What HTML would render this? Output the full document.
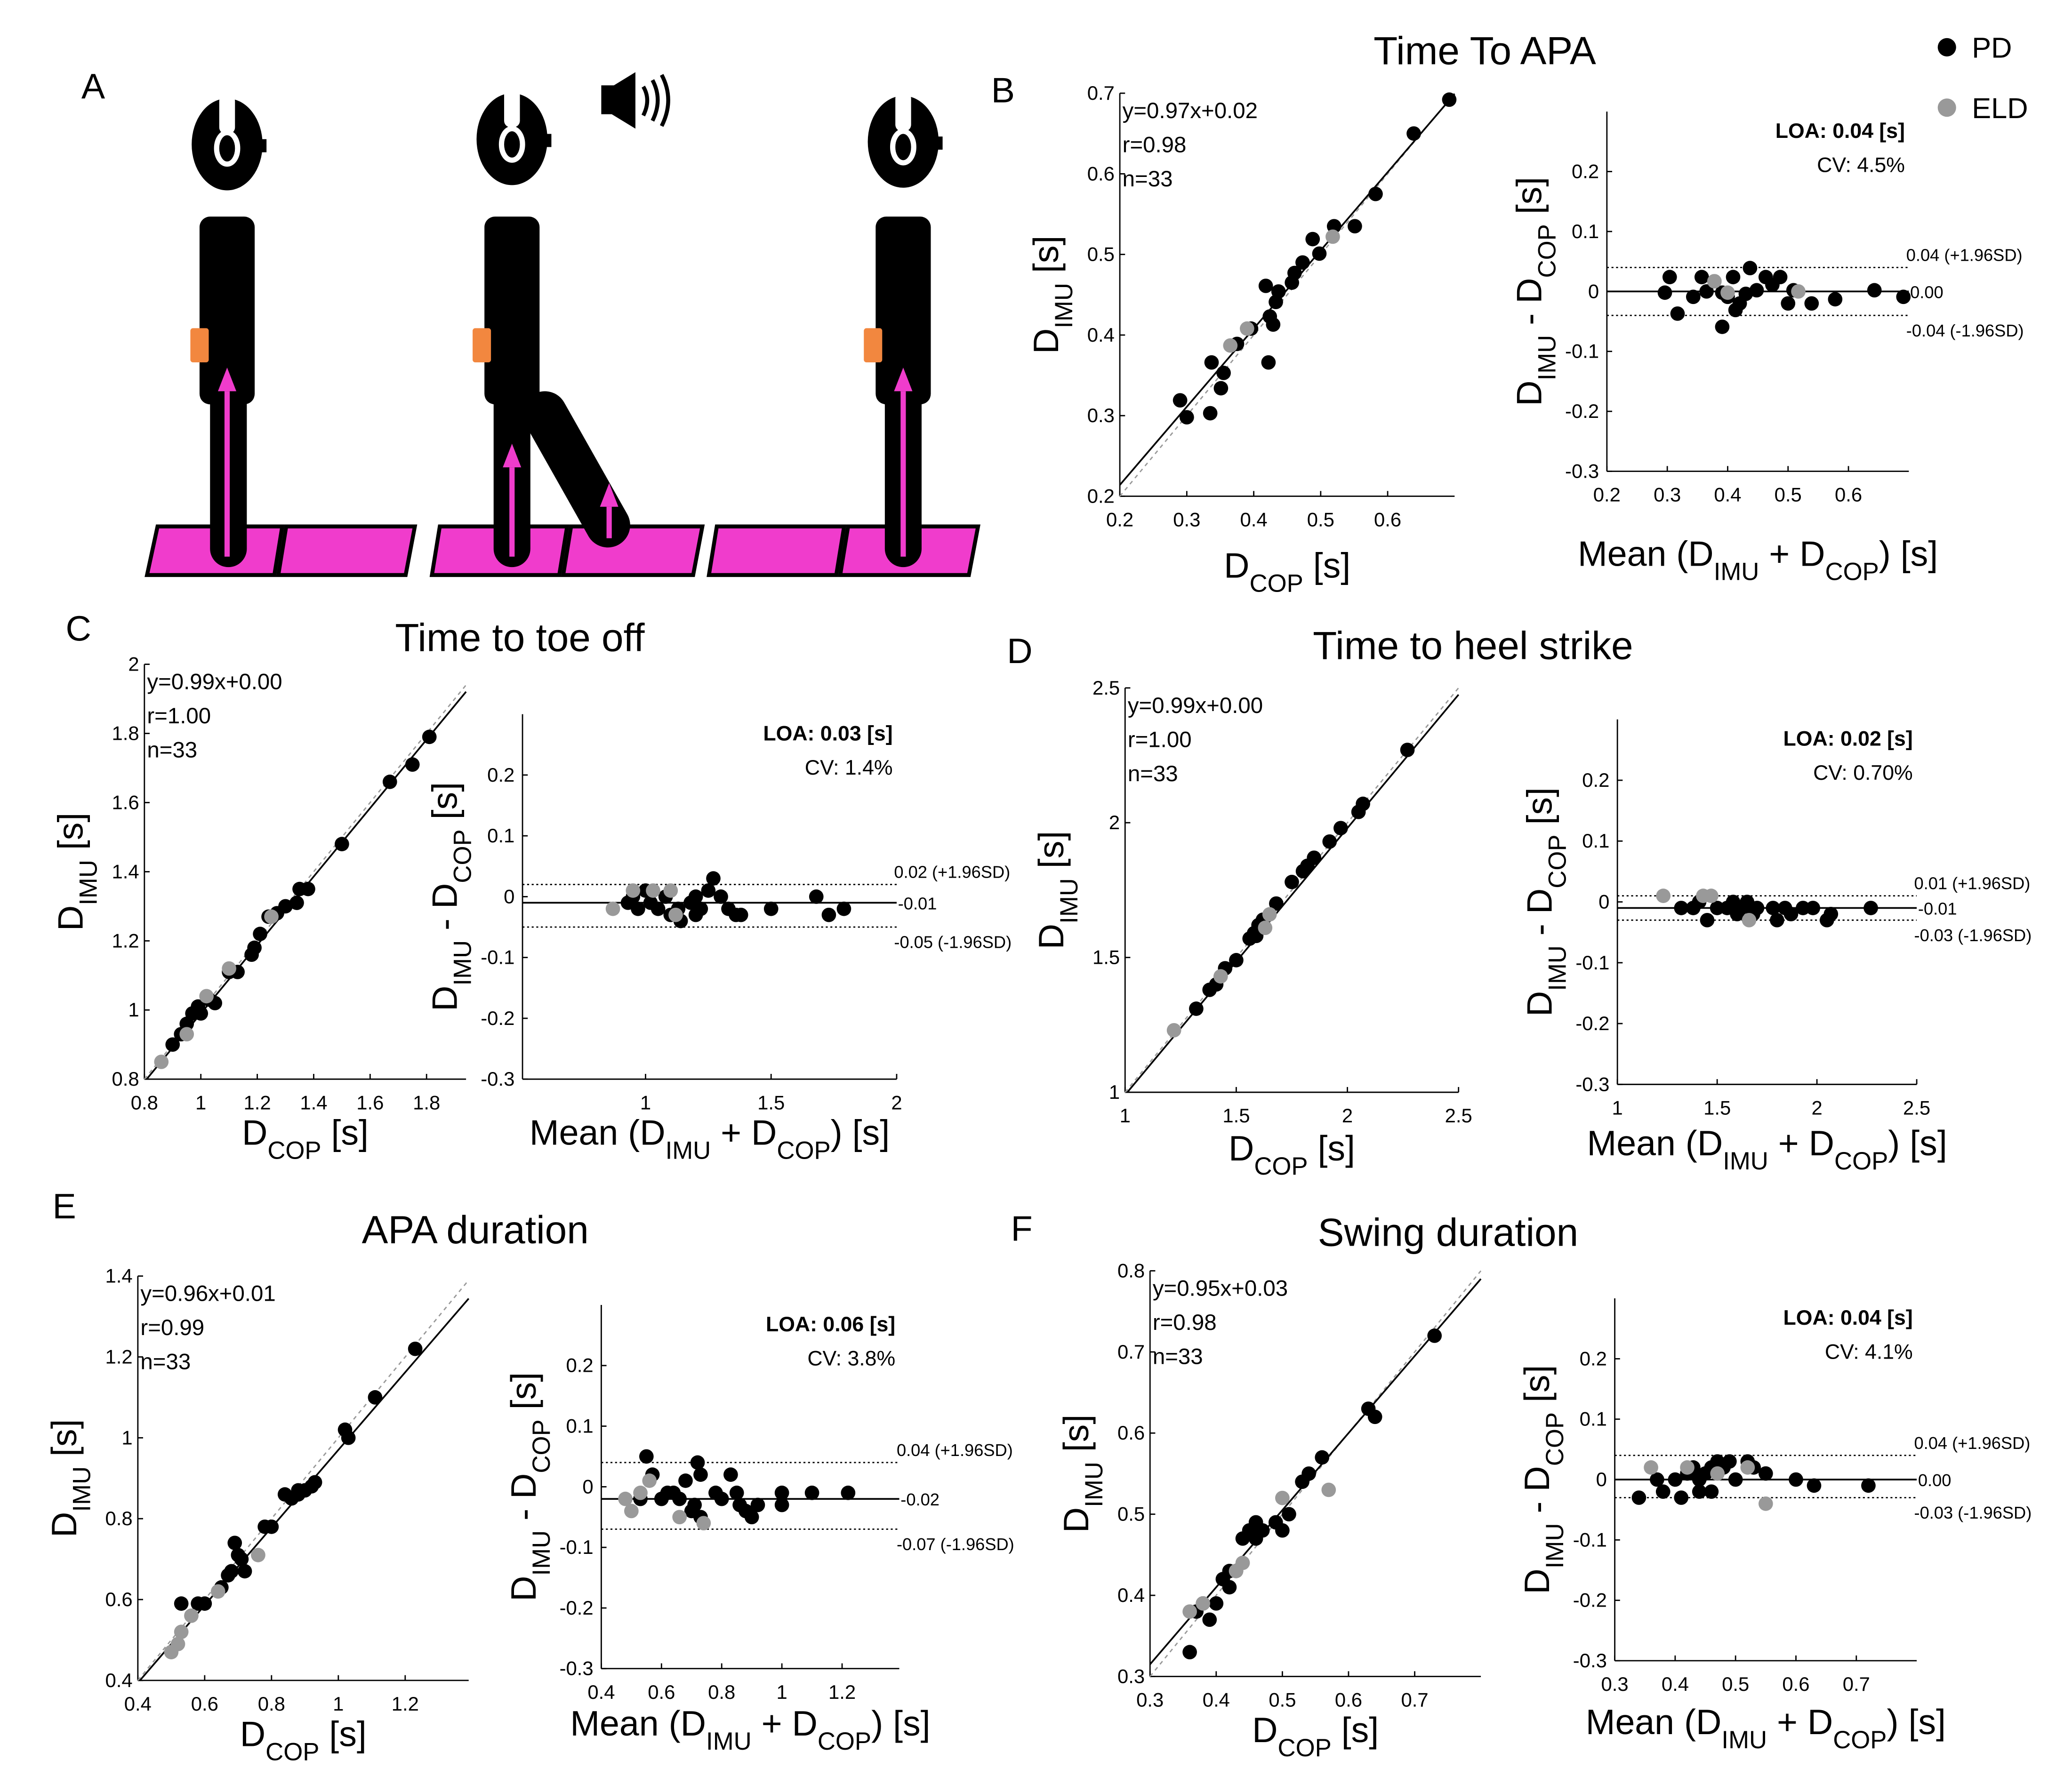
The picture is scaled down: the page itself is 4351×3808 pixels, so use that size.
<!DOCTYPE html>
<html><head><meta charset="utf-8"><style>
html,body{margin:0;padding:0;background:#fff;}
svg{display:block;font-family:"Liberation Sans",Arial,sans-serif;}
</style></head><body>
<svg id="fig" width="4351" height="3808" viewBox="0 0 1560 1365" preserveAspectRatio="none" xmlns="http://www.w3.org/2000/svg">
<g id="panelA">
  <g fill="#f03ccc" stroke="#000" stroke-width="3">
    <polygon points="120,401 215,401 209,438 112,438"/><polygon points="218,401 316,401 309,438 212,438"/>
    <polygon points="335,401 432,401 426,438 329,438"/><polygon points="435,401 535,401 528,438 429,438"/>
    <polygon points="546,401 643,401 637,438 540,438"/><polygon points="646,401 745,401 738,438 640,438"/>
  </g>
  <g>
    <ellipse cx="173" cy="110" rx="27" ry="35" fill="#000"/>
    <rect x="167" y="72" width="12" height="30" rx="5" fill="#fff"/>
    <ellipse cx="173" cy="113" rx="8" ry="12" fill="none" stroke="#fff" stroke-width="4"/>
    <rect x="198" y="106" width="5" height="10" fill="#000"/>
    <rect x="152" y="165" width="42" height="143" rx="8" fill="#000"/>
    <rect x="160" y="290" width="28" height="142" rx="14" fill="#000"/>
    <rect x="145" y="250" width="14" height="26" rx="2" fill="#f2873f"/>
    <line x1="173" y1="424" x2="173" y2="298" stroke="#f03ccc" stroke-width="4"/><polygon points="166,298 180,298 173,280" fill="#f03ccc"/>
  </g>
  <g>
    <ellipse cx="390" cy="106" rx="27" ry="35" fill="#000"/>
    <rect x="384" y="67" width="12" height="30" rx="5" fill="#fff"/>
    <ellipse cx="390" cy="110" rx="8" ry="12" fill="none" stroke="#fff" stroke-width="4"/>
    <rect x="415" y="102" width="5" height="10" fill="#000"/>
    <line x1="415" y1="315" x2="463" y2="400" stroke="#000" stroke-width="34" stroke-linecap="round"/>
    <rect x="369" y="165" width="42" height="143" rx="8" fill="#000"/>
    <rect x="376" y="290" width="28" height="142" rx="14" fill="#000"/>
    <rect x="360" y="250" width="14" height="26" rx="2" fill="#f2873f"/>
    <line x1="390" y1="424" x2="390" y2="356" stroke="#f03ccc" stroke-width="4"/><polygon points="383,356 397,356 390,338" fill="#f03ccc"/>
    <line x1="464" y1="410" x2="464" y2="386" stroke="#f03ccc" stroke-width="4"/><polygon points="457,386 471,386 464,368" fill="#f03ccc"/>
  </g>
  <g>
    <rect x="458" y="65" width="10" height="22" fill="#000"/><polygon points="466,66 484,55 484,98 466,87" fill="#000"/>
    <path d="M490,66 Q496,76 490,88 M497,61 Q505,76 497,92 M504,57 Q514,76 504,96" stroke="#000" stroke-width="3" fill="none"/>
  </g>
  <g>
    <ellipse cx="688" cy="108" rx="27" ry="35" fill="#000"/>
    <rect x="682" y="70" width="12" height="30" rx="5" fill="#fff"/>
    <ellipse cx="688" cy="112" rx="8" ry="12" fill="none" stroke="#fff" stroke-width="4"/>
    <rect x="713" y="104" width="5" height="10" fill="#000"/>
    <rect x="667" y="165" width="42" height="143" rx="8" fill="#000"/>
    <rect x="674" y="290" width="28" height="142" rx="14" fill="#000"/>
    <rect x="658" y="250" width="14" height="26" rx="2" fill="#f2873f"/>
    <line x1="688" y1="424" x2="688" y2="298" stroke="#f03ccc" stroke-width="4"/><polygon points="681,298 695,298 688,280" fill="#f03ccc"/>
  </g>
</g>
<g>
  <circle cx="1483" cy="36" r="7" fill="#000"/>
  <text x="1502" y="44" font-size="22">PD</text>
  <circle cx="1483" cy="82" r="7" fill="#999"/>
  <text x="1502" y="90" font-size="22">ELD</text>
</g>
</svg>
<script>
// ---- Panel B: Time To APA ----
const bScatterPD_x=[0.29,0.30,0.335,0.337,0.351,0.355,0.375,0.396,0.418,0.422,0.424,0.429,0.433,0.437,0.457,0.461,0.473,0.488,0.498,0.52,0.551,0.582,0.639,0.692];
const bScatterPD_y=[0.319,0.298,0.303,0.366,0.334,0.353,0.389,0.408,0.461,0.366,0.423,0.413,0.441,0.454,0.465,0.477,0.49,0.519,0.501,0.535,0.535,0.575,0.65,0.692];
const bScatterELD_x=[0.365,0.39,0.518];
const bScatterELD_y=[0.387,0.408,0.522];
const bBA_PD_x=[0.296,0.304,0.317,0.343,0.357,0.365,0.378,0.391,0.40,0.409,0.413,0.42,0.43,0.437,0.448,0.463,0.474,0.487,0.50,0.509,0.539,0.578,0.643,0.691,0.391];
const bBA_PD_y=[-0.002,0.024,-0.037,-0.009,0.024,0,0.017,-0.002,-0.009,0.024,-0.031,-0.02,-0.004,0.039,0.002,0.024,0.011,0.024,-0.02,0.002,-0.02,-0.013,0.002,-0.009,-0.059];
const bBA_ELD_x=[0.378,0.40,0.517];
const bBA_ELD_y=[0.017,-0.002,0.0];
const bStats=[0.04,0.00,-0.04];
// ---- Panel C: Time to toe off ----
const cScatterPD_x=[0.9,0.93,0.95,0.97,0.99,1.0,1.03,1.05,1.1,1.13,1.18,1.19,1.21,1.24,1.27,1.3,1.34,1.35,1.38,1.5,1.67,1.75,1.81];
const cScatterPD_y=[0.9,0.93,0.96,0.99,1.01,0.99,1.03,1.02,1.11,1.11,1.16,1.18,1.22,1.27,1.28,1.3,1.31,1.35,1.35,1.48,1.66,1.71,1.79];
const cScatterELD_x=[0.86,0.95,1.02,1.1,1.25];
const cScatterELD_y=[0.85,0.93,1.04,1.12,1.27];
const cBA_PD_x=[0.93,0.95,0.97,1.0,1.02,1.05,1.08,1.1,1.13,1.18,1.2,1.22,1.25,1.27,1.3,1.33,1.36,1.38,1.5,1.68,1.73,1.79,1.2,1.14];
const cBA_PD_y=[-0.01,0.0,-0.02,0.01,-0.01,-0.02,0.0,-0.03,-0.02,-0.01,-0.03,-0.02,0.01,0.03,0.0,-0.02,-0.03,-0.03,-0.02,0.0,-0.03,-0.02,0.0,-0.04];
const cBA_ELD_x=[0.87,0.95,1.03,1.1,1.12];
const cBA_ELD_y=[-0.02,0.01,0.01,0.01,-0.03];
const cStats=[0.02,-0.01,-0.05];
// ---- Panel D: Time to heel strike ----
const dScatterPD_x=[1.32,1.38,1.41,1.45,1.5,1.56,1.58,1.6,1.62,1.68,1.75,1.8,1.82,1.85,1.92,1.97,2.05,2.07,2.27,1.59];
const dScatterPD_y=[1.31,1.38,1.40,1.46,1.49,1.57,1.59,1.62,1.64,1.70,1.78,1.82,1.84,1.87,1.93,1.98,2.04,2.07,2.27,1.58];
const dScatterELD_x=[1.22,1.43,1.65,1.63];
const dScatterELD_y=[1.23,1.43,1.66,1.61];
const dBA_PD_x=[1.32,1.38,1.41,1.45,1.5,1.55,1.58,1.6,1.62,1.65,1.68,1.7,1.78,1.8,1.84,1.87,1.93,1.98,2.05,2.07,2.27];
const dBA_PD_y=[-0.01,-0.01,0.0,-0.03,-0.01,-0.01,0.0,-0.02,-0.01,0.0,-0.02,-0.01,-0.01,-0.03,-0.01,-0.02,-0.01,-0.01,-0.03,-0.02,-0.01];
const dBA_ELD_x=[1.23,1.43,1.47,1.66];
const dBA_ELD_y=[0.01,0.01,0.01,-0.03];
const dStats=[0.01,-0.01,-0.03];
// ---- Panel E: APA duration ----
const eScatterPD_x=[0.53,0.58,0.6,0.65,0.67,0.68,0.69,0.7,0.71,0.72,0.78,0.8,0.84,0.86,0.88,0.9,0.92,0.93,1.02,1.03,1.11,1.23,0.88];
const eScatterPD_y=[0.59,0.59,0.59,0.63,0.66,0.67,0.74,0.71,0.70,0.67,0.78,0.78,0.86,0.85,0.86,0.87,0.88,0.89,1.02,1.0,1.1,1.22,0.87];
const eScatterELD_x=[0.5,0.52,0.53,0.56,0.76,0.64];
const eScatterELD_y=[0.47,0.49,0.52,0.56,0.71,0.62];
const eBA_PD_x=[0.53,0.55,0.57,0.6,0.62,0.64,0.66,0.68,0.7,0.71,0.72,0.73,0.78,0.8,0.83,0.85,0.86,0.88,0.9,0.92,1.0,1.0,1.1,1.22,0.73];
const eBA_PD_y=[-0.02,0.05,0.02,-0.02,-0.01,-0.01,-0.02,0.01,-0.04,-0.03,0.04,0.02,-0.01,-0.02,0.02,-0.01,-0.03,-0.04,-0.05,-0.03,-0.01,-0.03,-0.01,-0.01,-0.05];
const eBA_ELD_x=[0.48,0.5,0.53,0.56,0.66,0.74];
const eBA_ELD_y=[-0.02,-0.04,-0.01,0.01,-0.05,-0.06];
const eStats=[0.04,-0.02,-0.07];
// ---- Panel F: Swing duration ----
const fScatterPD_x=[0.36,0.37,0.38,0.39,0.4,0.41,0.42,0.42,0.43,0.44,0.45,0.46,0.47,0.49,0.5,0.51,0.53,0.54,0.56,0.63,0.64,0.73,0.46];
const fScatterPD_y=[0.33,0.38,0.39,0.37,0.39,0.42,0.43,0.41,0.43,0.47,0.48,0.49,0.48,0.49,0.48,0.5,0.54,0.55,0.57,0.63,0.62,0.72,0.47];
const fScatterELD_x=[0.36,0.38,0.43,0.44,0.5,0.57];
const fScatterELD_y=[0.38,0.39,0.43,0.44,0.52,0.53];
const fBA_PD_x=[0.34,0.37,0.38,0.4,0.41,0.42,0.43,0.44,0.45,0.46,0.47,0.48,0.49,0.5,0.52,0.53,0.55,0.6,0.63,0.72,0.46,0.44];
const fBA_PD_y=[-0.03,0.0,-0.02,0.0,-0.03,0.01,0.02,0.0,0.01,0.02,0.03,0.02,0.03,0.0,0.03,0.02,0.01,0.0,-0.01,-0.01,-0.02,-0.02];
const fBA_ELD_x=[0.36,0.42,0.52,0.55,0.47];
const fBA_ELD_y=[0.02,0.02,0.02,-0.04,0.01];
const fStats=[0.04,0.00,-0.03];

const NS="http://www.w3.org/2000/svg";
const svg=document.getElementById('fig');
function mk(tag,attrs,parent,txt){const e=document.createElementNS(NS,tag);for(const k in attrs)e.setAttribute(k,attrs[k]);if(txt!==undefined)e.textContent=txt;(parent||svg).appendChild(e);return e;}
function lin(d0,d1,r0,r1){return v=>r0+(v-d0)*(r1-r0)/(d1-d0);}
function fmt(v){let s=(Math.round(v*100)/100).toFixed(2);if(s==='-0.00')s='0.00';return s;}
function sub(parent,x,y,size,anchor,parts,rot){
  const t=mk('text',{x:x,y:y,'font-size':size,'text-anchor':anchor||'start'},parent);
  if(rot)t.setAttribute('transform','rotate(-90 '+x+' '+y+')');
  parts.forEach(p=>{const s=mk('tspan',{},t,p[0]);if(p[1]){s.setAttribute('font-size',size*0.7);s.setAttribute('baseline-shift','sub');}});
  return t;
}
function dots(g,sx,sy,xs,ys,col,name){
  for(let i=0;i<xs.length;i++){
    const c=mk('circle',{cx:sx(xs[i]),cy:sy(ys[i]),r:5.5,fill:col},g);
    
    
  }
}
function scatter(o){
  const g=mk('g',{});
  
  
  const sx=lin(o.xd[0],o.xd[1],o.xr[0],o.xr[1]),sy=lin(o.yd[0],o.yd[1],o.yr[0],o.yr[1]);
  mk('line',{x1:o.xr[0],y1:o.yr[0],x2:o.xr[0],y2:o.yr[1],stroke:'#000','stroke-width':1},g);
  mk('line',{x1:o.xr[0],y1:o.yr[0],x2:o.xr[1],y2:o.yr[0],stroke:'#000','stroke-width':1},g);
  o.xt.forEach(v=>{mk('line',{x1:sx(v),y1:o.yr[0],x2:sx(v),y2:o.yr[0]-4,stroke:'#000'},g);mk('text',{x:sx(v),y:o.yr[0]+23,'font-size':15,'text-anchor':'middle'},g,o.xl(v));});
  o.yt.forEach(v=>{mk('line',{x1:o.xr[0],y1:sy(v),x2:o.xr[0]+4,y2:sy(v),stroke:'#000'},g);mk('text',{x:o.xr[0]-4,y:sy(v)+5,'font-size':15,'text-anchor':'end'},g,o.yl(v));});
  const lo=Math.max(o.xd[0],o.yd[0]),hi=Math.min(o.xd[1],o.yd[1]);
  mk('line',{x1:sx(lo),y1:sy(lo),x2:sx(hi),y2:sy(hi),stroke:'#999','stroke-width':1,'stroke-dasharray':'3,3'},g);
  const a=o.fit[0],b=o.fit[1];
  const x0=Math.max(o.xd[0],(o.yd[0]-b)/a),x1=Math.min(o.xd[1],(o.yd[1]-b)/a);
  mk('line',{x1:sx(x0),y1:sy(a*x0+b),x2:sx(x1),y2:sy(a*x1+b),stroke:'#000','stroke-width':1.3},g);
  dots(g,sx,sy,o.px,o.py,'#000','pd-point');
  dots(g,sx,sy,o.ex,o.ey,'#999','eld-point');
  o.txt.forEach((s,i)=>mk('text',{x:o.xr[0]+2,y:o.yr[1]+19+26*i,'font-size':17},g,s));
  sub(g,(o.xr[0]+o.xr[1])/2,o.yr[0]+o.xlab,27,'middle',[['D'],['COP',1],[' [s]']]);
  sub(g,o.xr[0]-47,(o.yr[0]+o.yr[1])/2,27,'middle',[['D'],['IMU',1],[' [s]']],true);
  if(o.title)mk('text',{x:o.title[1],y:o.title[2],'font-size':30,'text-anchor':'middle'},g,o.title[0]);
  mk('text',{x:o.letter[1],y:o.letter[2],'font-size':27},g,o.letter[0]);
}
function ba(o){
  const g=mk('g',{});
  
  
  const sx=lin(o.xd[0],o.xd[1],o.xr[0],o.xr[1]),sy=lin(-0.3,0.3,o.yr[0],o.yr[1]);
  mk('line',{x1:o.xr[0],y1:o.yr[0],x2:o.xr[0],y2:o.yr[1],stroke:'#000'},g);
  mk('line',{x1:o.xr[0],y1:o.yr[0],x2:o.xr[1],y2:o.yr[0],stroke:'#000'},g);
  o.xt.forEach(v=>{mk('line',{x1:sx(v),y1:o.yr[0],x2:sx(v),y2:o.yr[0]-4,stroke:'#000'},g);mk('text',{x:sx(v),y:o.yr[0]+23,'font-size':15,'text-anchor':'middle'},g,o.xl(v));});
  [-0.3,-0.2,-0.1,0,0.1,0.2].forEach(v=>{mk('line',{x1:o.xr[0],y1:sy(v),x2:o.xr[0]+4,y2:sy(v),stroke:'#000'},g);mk('text',{x:o.xr[0]-6,y:sy(v)+5,'font-size':15,'text-anchor':'end'},g,v===0?'0':String(v));});
  const st=o.stats;
  mk('line',{x1:o.xr[0],y1:sy(st[0]),x2:o.xr[1],y2:sy(st[0]),stroke:'#000','stroke-dasharray':'1.5,2','stroke-width':1},g);
  mk('line',{x1:o.xr[0],y1:sy(st[2]),x2:o.xr[1],y2:sy(st[2]),stroke:'#000','stroke-dasharray':'1.5,2','stroke-width':1},g);
  mk('line',{x1:o.xr[0],y1:sy(st[1]),x2:o.xr[1],y2:sy(st[1]),stroke:'#000','stroke-width':1.3},g);
  mk('text',{x:o.xr[1]-2,y:sy(st[0])-5,'font-size':13},g,fmt(st[0])+' (+1.96SD)');
  mk('text',{x:o.xr[1]+1,y:sy(st[1])+5,'font-size':13},g,fmt(st[1]));
  mk('text',{x:o.xr[1]-2,y:sy(st[2])+16,'font-size':13},g,fmt(st[2])+' (-1.96SD)');
  dots(g,sx,sy,o.px,o.py,'#000','pd-point');
  dots(g,sx,sy,o.ex,o.ey,'#999','eld-point');
  mk('text',{x:o.xr[1]-3,y:o.yr[1]+20,'font-size':16,'font-weight':'bold','text-anchor':'end'},g,'LOA: '+fmt(st[0]-st[1])+' [s]');
  mk('text',{x:o.xr[1]-3,y:o.yr[1]+46,'font-size':16,'text-anchor':'end'},g,o.cv);
  sub(g,(o.xr[0]+o.xr[1])/2,o.yr[0]+o.xlab,27,'middle',[['Mean (D'],['IMU',1],[' + D'],['COP',1],[') [s]']]);
  sub(g,o.xr[0]-50,(o.yr[0]+o.yr[1])/2,27,'middle',[['D'],['IMU',1],[' - D'],['COP',1],[' [s]']],true);
}
const f1=v=>v.toFixed(1), f1g=v=>(Math.abs(v-Math.round(v))<1e-9?String(Math.round(v)):v.toFixed(1));
// B
scatter({name:'panel-b-scatter',xd:[0.2,0.7],xr:[853,1108],yd:[0.2,0.7],yr:[378,71],xt:[0.2,0.3,0.4,0.5,0.6],yt:[0.2,0.3,0.4,0.5,0.6,0.7],xl:f1,yl:f1,xlab:62,
 fit:[0.97,0.02],px:bScatterPD_x,py:bScatterPD_y,ex:bScatterELD_x,ey:bScatterELD_y,txt:['y=0.97x+0.02','r=0.98','n=33'],title:['Time To APA',1131,49],letter:['B',755,78]});
ba({name:'panel-b-bland-altman',xd:[0.2,0.7],xr:[1224,1454],yr:[359,85],xt:[0.2,0.3,0.4,0.5,0.6],xl:f1,xlab:72,stats:bStats,cv:'CV: 4.5%',px:bBA_PD_x,py:bBA_PD_y,ex:bBA_ELD_x,ey:bBA_ELD_y});
// C
scatter({name:'panel-c-scatter',xd:[0.8,1.94],xr:[110,355],yd:[0.8,2.0],yr:[822,506],xt:[0.8,1,1.2,1.4,1.6,1.8],yt:[0.8,1,1.2,1.4,1.6,1.8,2],xl:f1g,yl:f1g,xlab:50,
 fit:[0.99,0.0],px:cScatterPD_x,py:cScatterPD_y,ex:cScatterELD_x,ey:cScatterELD_y,txt:['y=0.99x+0.00','r=1.00','n=33'],title:['Time to toe off',396,496],letter:['C',50,488]});
ba({name:'panel-c-bland-altman',xd:[0.51,2.0],xr:[398,683],yr:[822,544],xt:[1,1.5,2],xl:f1g,xlab:50,stats:cStats,cv:'CV: 1.4%',px:cBA_PD_x,py:cBA_PD_y,ex:cBA_ELD_x,ey:cBA_ELD_y});
// D
scatter({name:'panel-d-scatter',xd:[1,2.5],xr:[857,1111],yd:[1,2.5],yr:[832,524],xt:[1,1.5,2,2.5],yt:[1,1.5,2,2.5],xl:f1g,yl:f1g,xlab:52,
 fit:[0.99,0.0],px:dScatterPD_x,py:dScatterPD_y,ex:dScatterELD_x,ey:dScatterELD_y,txt:['y=0.99x+0.00','r=1.00','n=33'],title:['Time to heel strike',1122,502],letter:['D',767,505]});
ba({name:'panel-d-bland-altman',xd:[1,2.5],xr:[1232,1460],yr:[826,548],xt:[1,1.5,2,2.5],xl:f1g,xlab:54,stats:dStats,cv:'CV: 0.70%',px:dBA_PD_x,py:dBA_PD_y,ex:dBA_ELD_x,ey:dBA_ELD_y});
// E
scatter({name:'panel-e-scatter',xd:[0.4,1.39],xr:[105,357],yd:[0.4,1.4],yr:[1280,972],xt:[0.4,0.6,0.8,1,1.2],yt:[0.4,0.6,0.8,1,1.2,1.4],xl:f1g,yl:f1g,xlab:50,
 fit:[0.96,0.01],px:eScatterPD_x,py:eScatterPD_y,ex:eScatterELD_x,ey:eScatterELD_y,txt:['y=0.96x+0.01','r=0.99','n=33'],title:['APA duration',362,947],letter:['E',40,928]});
ba({name:'panel-e-bland-altman',xd:[0.4,1.39],xr:[458,685],yr:[1271,994],xt:[0.4,0.6,0.8,1,1.2],xl:f1g,xlab:51,stats:eStats,cv:'CV: 3.8%',px:eBA_PD_x,py:eBA_PD_y,ex:eBA_ELD_x,ey:eBA_ELD_y});
// F
scatter({name:'panel-f-scatter',xd:[0.3,0.8],xr:[876,1128],yd:[0.3,0.8],yr:[1277,968],xt:[0.3,0.4,0.5,0.6,0.7],yt:[0.3,0.4,0.5,0.6,0.7,0.8],xl:f1,yl:f1,xlab:50,
 fit:[0.95,0.03],px:fScatterPD_x,py:fScatterPD_y,ex:fScatterELD_x,ey:fScatterELD_y,txt:['y=0.95x+0.03','r=0.98','n=33'],title:['Swing duration',1103,949],letter:['F',770,945]});
ba({name:'panel-f-bland-altman',xd:[0.3,0.8],xr:[1230,1460],yr:[1265,989],xt:[0.3,0.4,0.5,0.6,0.7],xl:f1,xlab:56,stats:fStats,cv:'CV: 4.1%',px:fBA_PD_x,py:fBA_PD_y,ex:fBA_ELD_x,ey:fBA_ELD_y});
mk('text',{x:62,y:75,'font-size':27,},svg,'A');
</script>
</body></html>
